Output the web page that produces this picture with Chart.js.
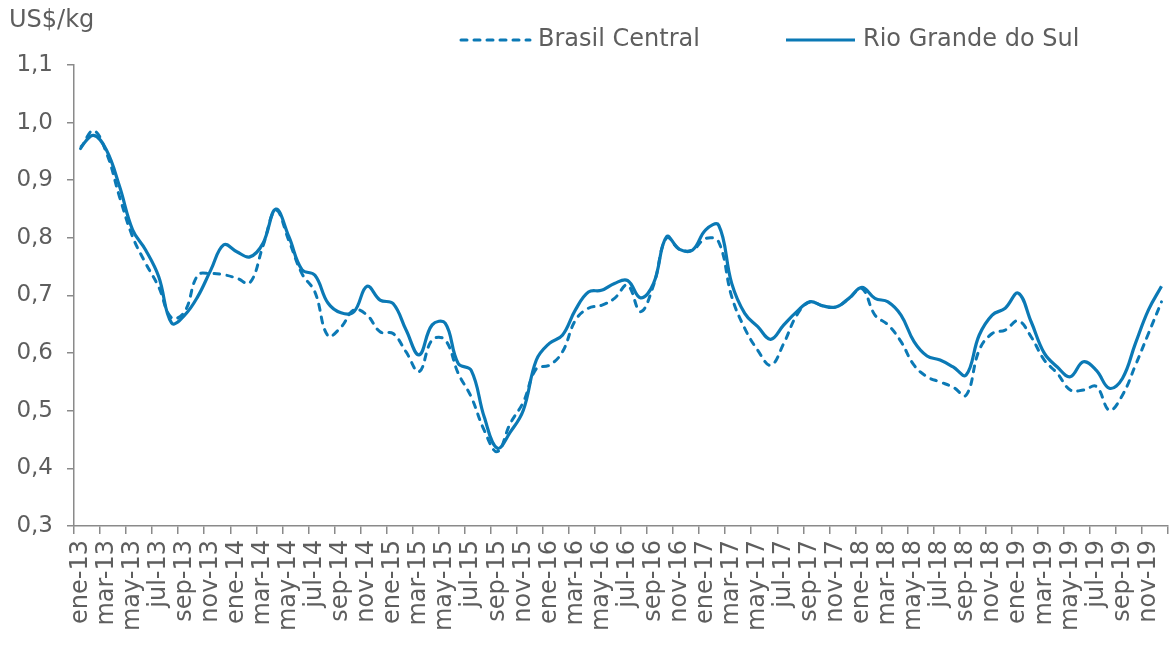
<!DOCTYPE html>
<html>
<head>
<meta charset="utf-8">
<script src="https://cdn.jsdelivr.net/npm/chart.js@4/dist/chart.umd.min.js"></script>
<style>
  body { margin: 0; background: #fff; }
  #wrap { width: 1171px; height: 646px; }
</style>
</head>
<body>
<div id="wrap"><canvas id="chart" width="1171" height="646"></canvas></div>
<script>
const MONTHS = ['ene', 'feb', 'mar', 'abr', 'may', 'jun', 'jul', 'ago', 'sep', 'oct', 'nov', 'dic'];
const YEARS = ['13', '14', '15', '16', '17', '18', '19'];

// US$/kg, ene-13 .. dic-19
const brasilCentral = [
  0.955, 0.986, 0.947, 0.871, 0.802, 0.756, 0.715, 0.661, 0.672, 0.735, 0.738, 0.736,
  0.730, 0.722, 0.785, 0.848, 0.795, 0.738, 0.706, 0.630, 0.645, 0.675, 0.666, 0.637,
  0.634, 0.602, 0.568, 0.623, 0.623, 0.565, 0.524, 0.466, 0.429, 0.478, 0.515, 0.573,
  0.579, 0.602, 0.657, 0.678, 0.683, 0.695, 0.718, 0.672, 0.718, 0.800, 0.780, 0.779,
  0.799, 0.793, 0.698, 0.643, 0.605, 0.579, 0.617, 0.666, 0.689, 0.682, 0.680, 0.695,
  0.712, 0.666, 0.649, 0.620, 0.579, 0.559, 0.550, 0.541, 0.527, 0.605, 0.634, 0.640,
  0.656, 0.628, 0.588, 0.565, 0.536, 0.536, 0.542, 0.501, 0.527, 0.579, 0.634, 0.689
];
const rioGrandeDoSul = [
  0.957, 0.978, 0.952, 0.889, 0.814, 0.779, 0.733, 0.652, 0.666, 0.698, 0.744, 0.788,
  0.776, 0.767, 0.790, 0.850, 0.802, 0.745, 0.735, 0.687, 0.670, 0.672, 0.716, 0.692,
  0.686, 0.640, 0.597, 0.649, 0.652, 0.582, 0.570, 0.489, 0.435, 0.463, 0.501, 0.588,
  0.617, 0.631, 0.675, 0.706, 0.709, 0.721, 0.726, 0.696, 0.721, 0.802, 0.780, 0.779,
  0.814, 0.822, 0.721, 0.669, 0.646, 0.624, 0.649, 0.672, 0.689, 0.682, 0.680, 0.695,
  0.714, 0.695, 0.689, 0.666, 0.620, 0.595, 0.588, 0.576, 0.562, 0.631, 0.666, 0.678,
  0.704, 0.654, 0.600, 0.576, 0.559, 0.585, 0.570, 0.539, 0.556, 0.617, 0.675, 0.716
];

const UNIT_LABEL = 'US$/kg';
const SERIES_NAMES = ['Brasil Central', 'Rio Grande do Sul'];

const LINE_COLOR = '#0b79b5';
const AXIS_COLOR = '#8a8a8a';
const TEXT_COLOR = '#5e5e5e';
const FONT = '"DejaVu Sans", sans-serif';

const labels = [];
YEARS.forEach(y => MONTHS.forEach(m => labels.push(m + '-' + y)));

// unit label and legend drawn at the top
const topTexts = {
    id: 'topTexts',
    afterDraw(chart) {
        const ctx = chart.ctx;
        const items = [
            { x: 461, textX: 538 },
            { x: 786, textX: 863 }
        ];
        ctx.save();
        ctx.font = '24px ' + FONT;
        ctx.fillStyle = TEXT_COLOR;
        ctx.textBaseline = 'middle';
        ctx.fillText(UNIT_LABEL, 9, 21);
        chart.data.datasets.forEach((ds, i) => {
            const it = items[i];
            ctx.strokeStyle = ds.borderColor;
            ctx.lineWidth = ds.borderWidth;
            ctx.lineCap = ds.borderCapStyle || 'butt';
            ctx.setLineDash(ds.borderDash || []);
            ctx.beginPath();
            ctx.moveTo(it.x, 40);
            ctx.lineTo(it.x + 69, 40);
            ctx.stroke();
            ctx.fillText(ds.label, it.textX, 40);
        });
        ctx.restore();
    }
};

new Chart(document.getElementById('chart'), {
    type: 'line',
    data: {
        labels: labels,
        datasets: [{
            label: SERIES_NAMES[0],
            data: brasilCentral,
            borderColor: LINE_COLOR,
            borderWidth: 3,
            borderDash: [6, 7],
            borderCapStyle: 'round',
            pointRadius: 0,
            tension: 0.4,
            order: 1
        }, {
            label: SERIES_NAMES[1],
            data: rioGrandeDoSul,
            borderColor: LINE_COLOR,
            borderWidth: 3.2,
            pointRadius: 0,
            tension: 0.4,
            order: 0
        }]
    },
    options: {
        responsive: false,
        animation: false,
        layout: { padding: { top: 65, right: 3, left: 0, bottom: 0 } },
        plugins: {
            legend: { display: false },
            tooltip: { enabled: false }
        },
        scales: {
            x: {
                offset: true,
                grid: {
                    offset: true,
                    drawOnChartArea: false,
                    tickLength: 8,
                    lineWidth: 1.5,
                    color: c => (c.index === undefined || c.index % 2 === 0) ? AXIS_COLOR : 'rgba(0,0,0,0)'
                },
                border: { color: AXIS_COLOR, width: 1.5 },
                ticks: {
                    autoSkip: false,
                    minRotation: 90,
                    maxRotation: 90,
                    padding: 6,
                    color: TEXT_COLOR,
                    font: { family: FONT, size: 24 },
                    callback: function(v, i) {
                        return i % 2 === 0 ? this.getLabelForValue(v) : '';
                    }
                },
                afterFit: s => {
                    s.height = 120;
                    s.paddingLeft = 0;
                    s.paddingRight = 0;
                }
            },
            y: {
                min: 0.3,
                max: 1.1,
                grid: { drawOnChartArea: false, tickLength: 7, lineWidth: 1.5, color: AXIS_COLOR },
                border: { color: AXIS_COLOR, width: 1.5 },
                ticks: {
                    stepSize: 0.1,
                    padding: 14,
                    color: TEXT_COLOR,
                    font: { family: FONT, size: 23 },
                    callback: v => v.toFixed(1).replace('.', ',')
                },
                afterFit: s => { s.width = 74; }
            }
        }
    },
    plugins: [topTexts]
});
</script>
</body>
</html>
